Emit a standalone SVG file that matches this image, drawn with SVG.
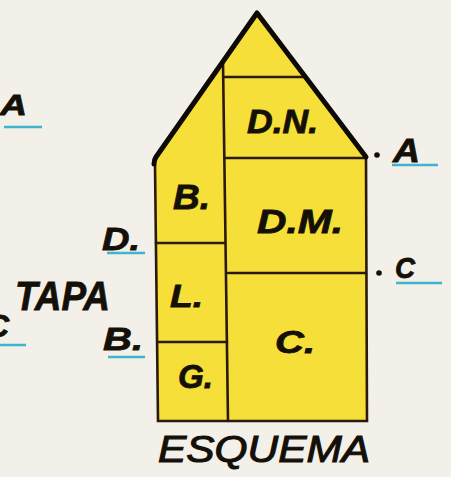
<svg xmlns="http://www.w3.org/2000/svg" width="451" height="477" viewBox="0 0 451 477">
<style>
.lbl{font-family:"Liberation Sans",Arial,sans-serif;font-weight:bold;font-style:italic;fill:#141008;stroke:#141008;stroke-width:0.8}
.ul{stroke:#3fb3cf;stroke-width:2.5;fill:none}
.edge{stroke:#2b1a0c;stroke-width:2.6;fill:none;stroke-linecap:round}
.roof{stroke:#0d0a06;stroke-width:5;fill:none;stroke-linecap:round;stroke-linejoin:round}
</style>
<rect width="451" height="477" fill="#f2f0e8"/>
<g id="house">
<polygon points="257,13 366,157 367,421 158,421 155,166 154,162" fill="#f5df38"/>
<path class="edge" d="M155,165 L158,421 L367,421 L366,157"/>
<path class="edge" d="M223,62 L228,421"/>
<path class="edge" d="M224,77 L304,77"/>
<path class="edge" d="M226,158 L366,158"/>
<path class="edge" d="M156,243 L225,243"/>
<path class="edge" d="M228,273 L366,273"/>
<path class="edge" d="M158,342 L227,342"/>
<path class="roof" d="M154,164 Q154,160 156,157 L257,13 L366,157"/>
</g>
<g id="rooms">
<text class="lbl" x="247" y="133" font-size="33" textLength="71" lengthAdjust="spacingAndGlyphs">D.N.</text>
<text class="lbl" x="257" y="233" font-size="34" textLength="86" lengthAdjust="spacingAndGlyphs">D.M.</text>
<text class="lbl" x="173" y="209" font-size="35" textLength="37" lengthAdjust="spacingAndGlyphs">B.</text>
<text class="lbl" x="170" y="307" font-size="31" textLength="33" lengthAdjust="spacingAndGlyphs">L.</text>
<text class="lbl" x="275" y="353" font-size="32" textLength="40" lengthAdjust="spacingAndGlyphs">C.</text>
<text class="lbl" x="178" y="388" font-size="34" textLength="35" lengthAdjust="spacingAndGlyphs">G.</text>
</g>
<g id="title">
<text class="lbl" x="158" y="462" font-size="37" textLength="212" lengthAdjust="spacingAndGlyphs" style="font-weight:normal;stroke-width:1.1">ESQUEMA</text>
<text class="lbl" x="15" y="310" font-size="41" textLength="95" lengthAdjust="spacingAndGlyphs">TAPA</text>
</g>
<g id="marks">
<text class="lbl" x="0" y="115" font-size="30" textLength="27" lengthAdjust="spacingAndGlyphs">A</text>
<line class="ul" x1="4" y1="127" x2="42" y2="127"/>
<text class="lbl" x="102" y="250" font-size="32" textLength="38" lengthAdjust="spacingAndGlyphs">D.</text>
<line class="ul" x1="107" y1="253" x2="145" y2="253"/>
<text class="lbl" x="-14" y="337" font-size="32">C</text>
<line class="ul" x1="0" y1="345" x2="26" y2="345"/>
<text class="lbl" x="103" y="350" font-size="32" textLength="40" lengthAdjust="spacingAndGlyphs">B.</text>
<line class="ul" x1="108" y1="357" x2="145" y2="357"/>
<circle cx="377" cy="155" r="2.8" fill="#141008"/>
<text class="lbl" x="393" y="162" font-size="34" textLength="27" lengthAdjust="spacingAndGlyphs">A</text>
<line class="ul" x1="392" y1="165" x2="438" y2="165"/>
<circle cx="379" cy="273" r="2.8" fill="#141008"/>
<text class="lbl" x="395" y="278" font-size="30" textLength="20" lengthAdjust="spacingAndGlyphs">C</text>
<line class="ul" x1="396" y1="283" x2="442" y2="283"/>
</g>
</svg>
